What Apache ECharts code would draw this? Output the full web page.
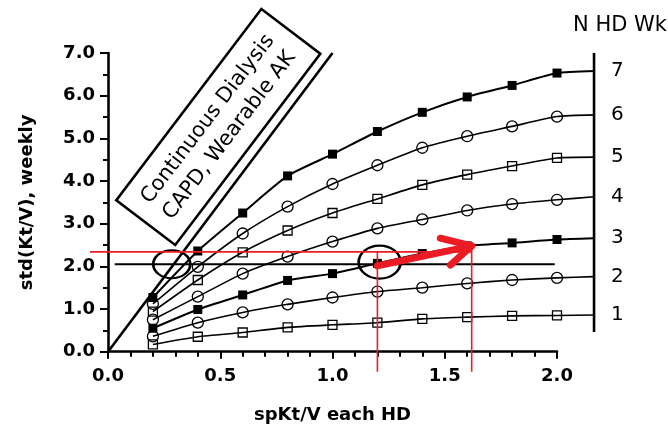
<!DOCTYPE html>
<html>
<head>
<meta charset="utf-8">
<script src="https://cdn.jsdelivr.net/npm/echarts@6/dist/echarts.min.js"></script>
<style>
html,body{margin:0;padding:0;background:#fff;}
#c{width:668px;height:430px;}
</style>
</head>
<body>
<div id="c"></div>
<script>
// ---- data ----
const spKtV = [0.2, 0.4, 0.6, 0.8, 1.0, 1.2, 1.4, 1.6, 1.8, 2.0];
const sessions = [7, 6, 5, 4, 3, 2, 1];
const stdKtV7 = [1.27, 2.36, 3.25, 4.12, 4.63, 5.16, 5.61, 5.97, 6.24, 6.53];
const stdKtV6 = [1.12, 1.99, 2.77, 3.40, 3.93, 4.37, 4.78, 5.05, 5.28, 5.51];
const stdKtV5 = [0.94, 1.68, 2.33, 2.84, 3.25, 3.58, 3.91, 4.15, 4.35, 4.54];
const stdKtV4 = [0.75, 1.29, 1.83, 2.23, 2.58, 2.89, 3.10, 3.31, 3.46, 3.56];
const stdKtV3 = [0.55, 0.99, 1.33, 1.67, 1.83, 2.07, 2.30, 2.48, 2.55, 2.63];
const stdKtV2 = [0.36, 0.68, 0.92, 1.11, 1.27, 1.41, 1.50, 1.60, 1.68, 1.73];
const stdKtV1 = [0.17, 0.35, 0.45, 0.57, 0.63, 0.68, 0.77, 0.81, 0.84, 0.85];
const plateau = [6.58, 5.55, 4.56, 3.63, 2.66, 1.76, 0.86];
const bracketX = 2.165;
const bracketSpan = [0.46, 7.0];
const continuousLine = [[0, 0], [1.0, 7.0]];
const blackLevel = 2.05, blackSpan = [0.03, 1.99];
const ellipses = [[0.284, 2.05], [1.21, 2.10]];
const redLevel = 2.34, redStartX = -0.08, redBottom = -0.47;
const redFromX = 1.2, redToX = 1.62;
const arrowTail = [1.2, 2.01], arrowTip = [1.62, 2.48];
const arrowWingA = [1.48, 2.66], arrowWingB = [1.525, 2.03];
const xTicks = [0.0, 0.5, 1.0, 1.5, 2.0];
const yTicks = [0, 1, 2, 3, 4, 5, 6, 7];

const curves = [stdKtV7, stdKtV6, stdKtV5, stdKtV4, stdKtV3, stdKtV2, stdKtV1];
const markerShape = ['rect', 'circle', 'rect', 'circle', 'rect', 'circle', 'rect'];
const markerFilled = [true, false, false, false, true, false, false];

// ---- layout ----
const FONT = 'DejaVu Sans';
const W = 668, H = 430;
const PLOT_L = 108, PLOT_R = 557, PLOT_T = 53, PLOT_B = 351.7;
const xMin = xTicks[0], xMax = xTicks[xTicks.length - 1];
const yMin = yTicks[0], yMax = yTicks[yTicks.length - 1];
const pxPerX = (PLOT_R - PLOT_L) / (xMax - xMin);
const pxPerY = (PLOT_B - PLOT_T) / (yMax - yMin);
// overlay grid covering the whole drawing extent, same scale as the plot axes
const oxMin = redStartX, oxMax = bracketX, oyMin = redBottom, oyMax = yMax;
const overlayGrid = {
  left: PLOT_L + (oxMin - xMin) * pxPerX,
  right: W - (PLOT_L + (oxMax - xMin) * pxPerX),
  top: PLOT_T,
  bottom: H - (PLOT_B + (yMin - oyMin) * pxPerY)
};

const series = [];
const onOverlay = { xAxisIndex: 1, yAxisIndex: 1, clip: false };
curves.forEach((vals, i) => {
  const data = spKtV.map((x, k) => [x, vals[k]]);
  data.push({ value: [bracketX, plateau[i]], symbol: 'none' });
  const filled = markerFilled[i];
  const isRect = markerShape[i] === 'rect';
  series.push(Object.assign({
    type: 'line',
    data: data,
    smooth: 0.2,
    symbol: markerShape[i],
    symbolSize: isRect ? 9 : 11,
    showAllSymbol: true,
    lineStyle: { color: '#000', width: (i === 0 || i === 4) ? 2 : 1.6 },
    itemStyle: filled ? { color: '#000', borderColor: '#000', borderWidth: 0 }
                      : { color: 'rgba(0,0,0,0)', borderColor: '#000', borderWidth: 1.3 },
    endLabel: {
      show: true, distance: 17,
      formatter: String(sessions[i]),
      fontFamily: FONT, fontSize: 20, color: '#000'
    },
    z: 3
  }, onOverlay));
});

function segment(points, color, width, z, extra) {
  return Object.assign({
    type: 'line', symbol: 'none', z: z, data: points,
    lineStyle: Object.assign({ color: color, width: width }, extra || {})
  }, onOverlay);
}
// right bracket line
series.push(segment([[bracketX, bracketSpan[0]], [bracketX, bracketSpan[1]]], '#000', 2.6, 3));
// continuous dialysis line
series.push(segment(continuousLine, '#000', 2.6, 3));
// black horizontal line
series.push(segment([[blackSpan[0], blackLevel], [blackSpan[1], blackLevel]], '#000', 2, 3));
// ellipses
series.push(Object.assign({
  type: 'scatter', z: 4,
  data: [
    { value: ellipses[0], symbolSize: [37, 28] },
    { value: ellipses[1], symbolSize: [42, 33] }
  ],
  symbol: 'circle',
  itemStyle: { color: 'rgba(0,0,0,0)', borderColor: '#000', borderWidth: 2.4, opacity: 1 }
}, onOverlay));
// red guide lines
const RED = '#ec1c24';
series.push(segment([[redStartX, redLevel], [redToX, redLevel]], RED, 1.6, 6));
series.push(segment([[redFromX, redLevel], [redFromX, redBottom]], RED, 1.6, 6));
series.push(segment([[redToX, arrowTip[1]], [redToX, redBottom]], RED, 1.6, 6));
// red arrow
series.push(segment([arrowTail, arrowTip], RED, 7, 7, { cap: 'round' }));
series.push(segment([arrowWingA, arrowTip, arrowWingB], RED, 7, 7, { cap: 'round', join: 'round' }));

const chart = echarts.init(document.getElementById('c'), null, { renderer: 'canvas' });
const labelStyle = { fontFamily: FONT, fontWeight: 'bold', fontSize: 18, color: '#000' };
chart.setOption({
  animation: false,
  backgroundColor: '#fff',
  grid: [
    { left: PLOT_L, right: W - PLOT_R, top: PLOT_T, bottom: H - PLOT_B },
    overlayGrid
  ],
  xAxis: [{
    gridIndex: 0, type: 'value', min: xMin, max: xMax, interval: 0.5,
    splitLine: { show: false },
    axisLine: { show: true, onZero: false, lineStyle: { color: '#000', width: 2.6 } },
    axisTick: { show: true, length: 7, lineStyle: { color: '#000', width: 2 } },
    minorTick: { show: true, splitNumber: 5, length: 5, lineStyle: { color: '#000', width: 2 } },
    axisLabel: Object.assign({ margin: 16, formatter: v => v.toFixed(1) }, labelStyle),
    name: 'spKt/V each HD', nameLocation: 'middle', nameGap: 55,
    nameTextStyle: labelStyle
  }, {
    gridIndex: 1, type: 'value', min: oxMin, max: oxMax, show: false
  }],
  yAxis: [{
    gridIndex: 0, type: 'value', min: yMin, max: yMax, interval: 1,
    splitLine: { show: false },
    axisLine: { show: true, onZero: false, lineStyle: { color: '#000', width: 2.6 } },
    axisTick: { show: true, length: 8, lineStyle: { color: '#000', width: 2 } },
    minorTick: { show: true, splitNumber: 2, length: 5, lineStyle: { color: '#000', width: 2 } },
    axisLabel: Object.assign({ margin: 13, formatter: v => v.toFixed(1) }, labelStyle),
    name: 'std(Kt/V), weekly', nameLocation: 'middle', nameGap: 72,
    nameTextStyle: labelStyle
  }, {
    gridIndex: 1, type: 'value', min: oyMin, max: oyMax, show: false
  }],
  graphic: [
    {
      type: 'text', x: 620, y: 26,
      style: { text: 'N HD Wk', fontFamily: FONT, fontSize: 21, fill: '#000', align: 'center', verticalAlign: 'middle' }
    },
    {
      type: 'group', x: 218.3, y: 127, rotation: 52.8 * Math.PI / 180,
      children: [
        { type: 'rect', shape: { x: -120, y: -37, width: 240, height: 74 },
          style: { fill: 'rgba(0,0,0,0)', stroke: '#000', lineWidth: 2.6 } },
        { type: 'text', x: 0, y: -13,
          style: { text: 'Continuous Dialysis', fontFamily: FONT, fontSize: 21, fill: '#000', align: 'center', verticalAlign: 'middle' } },
        { type: 'text', x: 0, y: 14,
          style: { text: 'CAPD, Wearable AK', fontFamily: FONT, fontSize: 21, fill: '#000', align: 'center', verticalAlign: 'middle' } }
      ]
    }
  ],
  series: series
});
</script>
</body>
</html>
